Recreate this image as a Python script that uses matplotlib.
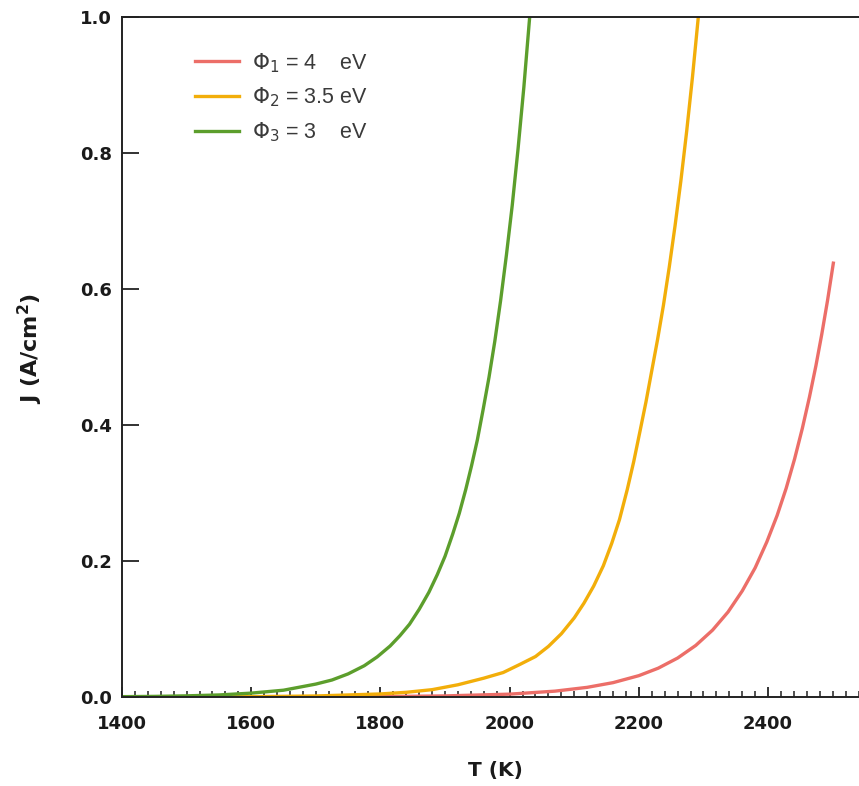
import matplotlib
matplotlib.use("Agg")
import matplotlib.pyplot as plt
from matplotlib.ticker import MultipleLocator

# ---- data ----
T_phi3 = [1400, 1450, 1500, 1550, 1600, 1650, 1700, 1725, 1750, 1775, 1795, 1815,
          1830, 1845, 1860, 1875, 1888, 1900, 1912, 1922, 1932, 1941, 1950, 1959,
          1968, 1977, 1986, 1995, 2004, 2013, 2022, 2031]
J_phi3 = [0.0005, 0.0009, 0.0017, 0.003, 0.0057, 0.010, 0.019, 0.025, 0.034, 0.046, 0.059, 0.075,
          0.090, 0.107, 0.129, 0.154, 0.180, 0.207, 0.240, 0.270, 0.305, 0.340, 0.378, 0.423,
          0.470, 0.523, 0.583, 0.650, 0.723, 0.806, 0.897, 1.000]

T_phi2 = [1400, 1600, 1700, 1800, 1840, 1880, 1920, 1960, 1990, 2016, 2040, 2060,
          2080, 2100, 2115, 2130, 2145, 2158, 2170, 2182, 2192, 2202, 2211, 2220,
          2229, 2238, 2247, 2256, 2265, 2274, 2283, 2292]
J_phi2 = [0.0001, 0.0005, 0.0015, 0.0045, 0.0069, 0.0108, 0.018, 0.0277, 0.036, 0.048, 0.0595, 0.0744,
          0.093, 0.1164, 0.138, 0.163, 0.193, 0.226, 0.261, 0.305, 0.346, 0.392, 0.434, 0.480,
          0.526, 0.576, 0.632, 0.693, 0.759, 0.832, 0.912, 1.000]

T_phi1 = [1400, 1600, 1800, 1900, 2000, 2070, 2120, 2160, 2200, 2230, 2260, 2288,
          2314, 2338, 2360, 2380, 2398, 2414, 2428, 2441, 2453, 2464, 2474, 2483,
          2492, 2501]
J_phi1 = [0.0000, 0.0001, 0.0006, 0.0016, 0.0042, 0.0086, 0.0142, 0.0211, 0.0314, 0.0424, 0.0573, 0.0758,
          0.0983, 0.125, 0.156, 0.190, 0.228, 0.267, 0.307, 0.350, 0.395, 0.441, 0.487, 0.533,
          0.583, 0.638]

labels = [r"$\Phi_1$ = 4    eV", r"$\Phi_2$ = 3.5 eV", r"$\Phi_3$ = 3    eV"]
colors = ["#EC6E68", "#F2AE0A", "#5C9E2C"]

x_ticks = [1400, 1600, 1800, 2000, 2200, 2400]
y_ticks = [0.0, 0.2, 0.4, 0.6, 0.8, 1.0]

# ---- figure ----
W, H = 859, 786
fig = plt.figure(figsize=(W / 100, H / 100), dpi=100)
left_px, right_px, top_px, bottom_px = 122, 865, 17, 697
aw, ah = right_px - left_px, bottom_px - top_px
ax = fig.add_axes([left_px / W, (H - bottom_px) / H, aw / W, ah / H])

ax.plot(T_phi1, J_phi1, color=colors[0], lw=2.4, label=labels[0])
ax.plot(T_phi2, J_phi2, color=colors[1], lw=2.4, label=labels[1])
ax.plot(T_phi3, J_phi3, color=colors[2], lw=2.4, label=labels[2])

ax.set_xlim(1400, 2550)
ax.set_ylim(0.0, 1.0)

ax.set_xticks(x_ticks)
ax.set_xticklabels([str(v) for v in x_ticks])
ax.xaxis.set_minor_locator(MultipleLocator(20))
ax.set_yticks(y_ticks)
ax.set_yticklabels([f"{v:.1f}" for v in y_ticks])

for s in ["left", "top", "bottom"]:
    ax.spines[s].set_linewidth(1.4)
    ax.spines[s].set_color("#222222")
ax.spines["right"].set_visible(False)

ax.tick_params(axis="x", which="major", direction="in", length=7.5, width=1.3,
               color="#222222", pad=13, top=False)
ax.tick_params(axis="x", which="minor", direction="in", length=4.2, width=1.1,
               color="#222222", top=False)
ax.tick_params(axis="y", which="major", direction="in", length=12, width=1.3,
               color="#222222", pad=7, right=False)

for lab in ax.get_xticklabels() + ax.get_yticklabels():
    lab.set_fontfamily("DejaVu Sans")
    lab.set_fontweight("bold")
    lab.set_fontsize(13)
    lab.set_color("#1a1a1a")

ax.set_xlabel("T (K)", fontsize=14.5, fontweight="bold", color="#1a1a1a")
ax.set_ylabel(r"J (A/cm$^\mathbf{2}$)", fontsize=16, fontweight="bold", color="#1a1a1a")
ax.xaxis.set_label_coords((495 - left_px) / aw, -(761 - bottom_px) / ah)
ax.yaxis.set_label_coords(-(left_px - 45) / aw, (bottom_px - 349) / ah)

leg = ax.legend(loc="upper left",
                bbox_to_anchor=((195 - left_px) / aw, 1 - (51 - top_px) / ah),
                frameon=False, handlelength=2.05, handletextpad=0.6,
                labelspacing=0.52, borderaxespad=0, borderpad=0,
                prop={"family": ["Liberation Sans", "DejaVu Sans"], "size": 15.5})
for t in leg.get_texts():
    t.set_color("#3a3a3a")

fig.savefig("out.png", dpi=100, facecolor="white")
